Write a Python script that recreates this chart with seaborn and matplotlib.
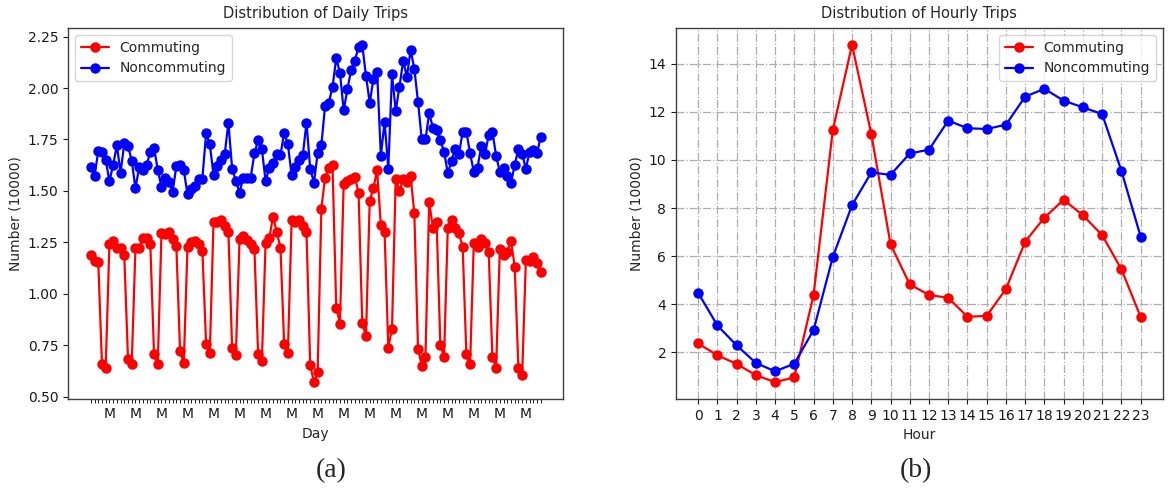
import numpy as np
import pandas as pd
import matplotlib
matplotlib.use("Agg")
import matplotlib.pyplot as plt
import seaborn as sns

# ---------------- data ----------------
commuting_daily = [
    1.19, 1.16, 1.155, 0.657, 0.641,
    1.241, 1.257, 1.224, 1.224, 1.187, 0.682, 0.657,
    1.22, 1.224, 1.27, 1.27, 1.24, 0.706, 0.657,
    1.294, 1.29, 1.302, 1.265, 1.232, 0.722, 0.662,
    1.228, 1.25, 1.257, 1.24, 1.21, 0.755, 0.711,
    1.35, 1.35, 1.36, 1.33, 1.30, 0.738, 0.701,
    1.265, 1.281, 1.26, 1.241, 1.216, 0.706, 0.673,
    1.248, 1.27, 1.375, 1.30, 1.224, 0.755, 0.714,
    1.357, 1.35, 1.36, 1.33, 1.30, 0.653, 0.57,
    0.617, 1.414, 1.565, 1.613, 1.625, 0.933, 0.855,
    1.535, 1.549, 1.56, 1.568, 1.492, 0.86, 0.792,
    1.451, 1.513, 1.602, 1.333, 1.302, 0.738, 0.83,
    1.56, 1.50, 1.56, 1.544, 1.573, 1.391, 0.733,
    0.65, 0.694, 1.446, 1.321, 1.349, 0.75, 0.694,
    1.321, 1.359, 1.318, 1.294, 1.229, 0.706, 0.657,
    1.249, 1.229, 1.268, 1.249, 1.203, 0.694, 0.641,
    1.219, 1.187, 1.205, 1.257, 1.132, 0.638, 0.604,
    1.164, 1.16, 1.18, 1.148, 1.107,
]
noncommuting_daily = [
    1.618, 1.573, 1.694, 1.69, 1.65,
    1.548, 1.625, 1.722, 1.589, 1.732, 1.72, 1.646,
    1.513, 1.615, 1.60, 1.625, 1.69, 1.71, 1.602,
    1.52, 1.565, 1.544, 1.497, 1.62, 1.625, 1.60,
    1.484, 1.51, 1.525, 1.56, 1.56, 1.78, 1.727,
    1.576, 1.621, 1.65, 1.678, 1.832, 1.608, 1.549,
    1.492, 1.565, 1.565, 1.565, 1.683, 1.748, 1.703,
    1.549, 1.613, 1.637, 1.678, 1.675, 1.783, 1.727,
    1.576, 1.616, 1.65, 1.673, 1.832, 1.608, 1.54,
    1.682, 1.724, 1.913, 1.929, 2.005, 2.145, 2.075,
    1.892, 1.994, 2.087, 2.132, 2.201, 2.21, 2.059,
    1.929, 2.043, 2.078, 1.67, 1.837, 1.608, 2.067,
    1.889, 2.007, 2.132, 2.056, 2.185, 2.094, 1.932,
    1.751, 1.751, 1.878, 1.808, 1.796, 1.746, 1.691,
    1.586, 1.646, 1.706, 1.678, 1.787, 1.787, 1.683,
    1.592, 1.613, 1.719, 1.678, 1.771, 1.787, 1.67,
    1.592, 1.613, 1.573, 1.54, 1.625, 1.706, 1.678,
    1.608, 1.69, 1.697, 1.683, 1.764,
]
days = list(range(len(commuting_daily)))
first_monday = 5

hours = list(range(24))
commuting_hourly = [2.36, 1.87, 1.51, 1.04, 0.75, 0.95, 4.38, 11.25, 14.79, 11.08,
                    6.49, 4.82, 4.38, 4.26, 3.47, 3.51, 4.63, 6.60, 7.60, 8.34,
                    7.70, 6.87, 5.45, 3.47]
noncommuting_hourly = [4.47, 3.11, 2.28, 1.55, 1.20, 1.52, 2.92, 5.96, 8.12, 9.48,
                       9.38, 10.27, 10.43, 11.64, 11.32, 11.29, 11.47, 12.64, 12.96, 12.47,
                       12.19, 11.91, 9.55, 6.81]

series_names = ["Commuting", "Noncommuting"]
colors = {"Commuting": "red", "Noncommuting": "blue"}

daily_df = pd.DataFrame({
    "Day": days * 2,
    "Number": commuting_daily + noncommuting_daily,
    "Type": ["Commuting"] * len(days) + ["Noncommuting"] * len(days),
})
hourly_df = pd.DataFrame({
    "Hour": hours * 2,
    "Number": commuting_hourly + noncommuting_hourly,
    "Type": ["Commuting"] * 24 + ["Noncommuting"] * 24,
})

# ---------------- style ----------------
sns.set_style("white")
plt.rcParams["font.family"] = ["DejaVu Sans"]
plt.rcParams["axes.edgecolor"] = "0.25"
plt.rcParams["axes.linewidth"] = 1.0
plt.rcParams["xtick.color"] = "0.1"
plt.rcParams["ytick.color"] = "0.1"

fig = plt.figure(figsize=(11.7, 4.92), dpi=100)
ax1 = fig.add_axes([0.0584, 0.189, 0.423, 0.754])
ax2 = fig.add_axes([0.5778, 0.189, 0.416, 0.754])

line_kw = dict(marker="o", markersize=7.5, linewidth=1.6, markeredgewidth=0)

# ---------------- (a) daily ----------------
sns.lineplot(data=daily_df, x="Day", y="Number", hue="Type", palette=colors,
             hue_order=series_names, ax=ax1, **line_kw)
ax1.set_xticks(days)
ax1.set_xticklabels(["M" if (d - first_monday) % 7 == 0 and d >= first_monday else ""
                     for d in days], fontsize=10)
ax1.tick_params(axis="x", length=3, width=0.7, pad=3, bottom=True)
ax1.tick_params(axis="y", length=3.5, labelsize=10, left=True)
ax1.set_yticks([0.5, 0.75, 1.0, 1.25, 1.5, 1.75, 2.0, 2.25])
ax1.set_yticklabels(["0.50", "0.75", "1.00", "1.25", "1.50", "1.75", "2.00", "2.25"])
ax1.set_xlabel("Day", fontsize=10)
ax1.set_ylabel("Number (10000)", fontsize=10)
ax1.set_title("Distribution of Daily Trips", fontsize=10.5, pad=7)
ax1.margins(x=0.05, y=0.05)
leg1 = ax1.legend(loc="upper left", fontsize=10, frameon=True, fancybox=True,
                  edgecolor="0.8", borderpad=0.4, handlelength=2.0)
leg1.set_title(None)

# ---------------- (b) hourly ----------------
sns.lineplot(data=hourly_df, x="Hour", y="Number", hue="Type", palette=colors,
             hue_order=series_names, ax=ax2, **line_kw)
ax2.set_xticks(hours)
ax2.set_xticklabels([str(h) for h in hours], fontsize=10)
ax2.set_yticks([2, 4, 6, 8, 10, 12, 14])
ax2.tick_params(axis="both", length=3.5, labelsize=10, left=True, bottom=True)
ax2.set_xlabel("Hour", fontsize=10)
ax2.set_ylabel("Number (10000)", fontsize=10)
ax2.set_title("Distribution of Hourly Trips", fontsize=10.5, pad=7)
ax2.margins(x=0.05, y=0.05)
ax2.grid(True, linestyle="-.", color="0.68", linewidth=0.9)
ax2.set_axisbelow(True)
leg2 = ax2.legend(loc="upper right", fontsize=10, frameon=True, fancybox=True,
                  edgecolor="0.8", borderpad=0.4, handlelength=2.0)
leg2.set_title(None)

# captions
fig.text(0.283, 0.043, "(a)", fontsize=20, family=["Liberation Serif", "DejaVu Serif"],
         ha="center", va="center")
fig.text(0.783, 0.043, "(b)", fontsize=20, family=["Liberation Serif", "DejaVu Serif"],
         ha="center", va="center")

fig.savefig("out.png", dpi=100, facecolor="white")
